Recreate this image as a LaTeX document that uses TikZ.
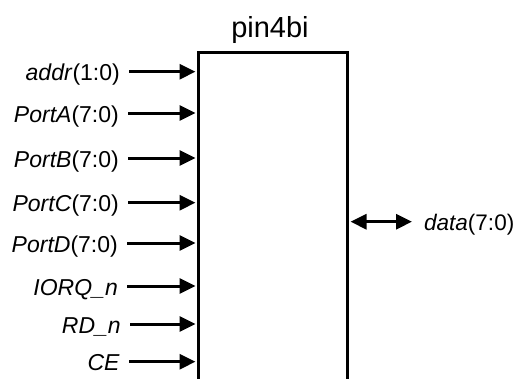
\documentclass[tikz,border=0pt]{standalone}
\usepackage{fontspec}
\setmainfont{Liberation Sans}
\usetikzlibrary{arrows.meta}
\tikzset{
  x=1pt, y=-1pt,
  blockbox/.style={draw, line width=3pt, minimum width=149pt, minimum height=380pt, anchor=north west, inner sep=0pt},
  pinlabel/.style={anchor=east, inner sep=0pt, inner xsep=9pt, text height=21pt, text depth=3pt, font=\fontsize{23}{27}\selectfont},
  outlabel/.style={anchor=west, inner sep=0pt, inner xsep=12pt, text height=21pt, text depth=3pt, font=\fontsize{22.5}{27}\selectfont},
  sig/.style={line width=3pt, -{Triangle[length=16pt,width=15pt]}, shorten >=1.5pt},
  bisig/.style={line width=3pt, {Triangle[length=16pt,width=15pt]}-{Triangle[length=16pt,width=15pt]}, shorten <=1.5pt},
}
\begin{document}
\begin{tikzpicture}
\clip (0,0) rectangle (517,378);
\fill[white] (0,0) rectangle (517,378);
\node[blockbox] (blk) at (197,51) {};
\node[anchor=base, inner sep=0pt, font=\fontsize{29}{33}\selectfont] (title) at (270,37) {pin4bi};
\node[pinlabel] (l1) at (129,71.7) {\textit{addr}(1:0)};
\node[pinlabel] (l2) at (128,113) {\textit{PortA}(7:0)};
\node[pinlabel] (l3) at (128,158) {\textit{PortB}(7:0)};
\node[pinlabel] (l4) at (128,202.7) {\textit{PortC}(7:0)};
\node[pinlabel] (l5) at (127,243) {\textit{PortD}(7:0)};
\node[pinlabel] (l6) at (127,286) {\textit{IORQ\_n}};
\node[pinlabel] (l7) at (130,324) {\textit{RD\_n}};
\node[pinlabel] (l8) at (129,361.7) {\textit{CE}};
\foreach \n in {l1,l2,l3,l4,l5,l6,l7,l8}
  \draw[sig] (\n.east) -- (\n.east -| blk.west);
\node[outlabel] (dat) at (412,221.7) {\textit{data}(7:0)};
\draw[bisig] (dat.west -| blk.east) -- (dat.west);
\end{tikzpicture}
\end{document}
